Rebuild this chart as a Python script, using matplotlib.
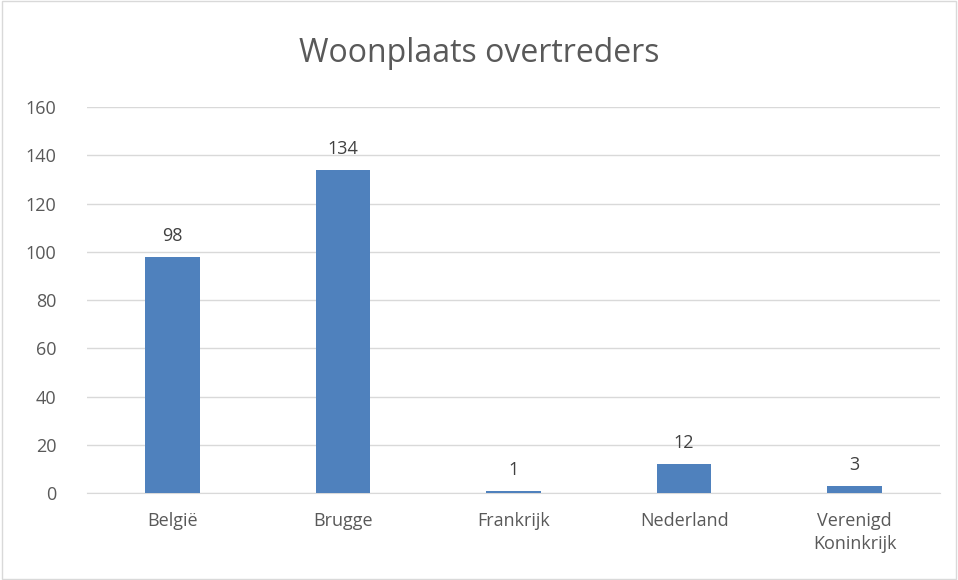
import matplotlib
matplotlib.use("Agg")
import matplotlib.pyplot as plt
import numpy as np

categories = ["België", "Brugge", "Frankrijk", "Nederland", "Verenigd\nKoninkrijk"]
values = [98, 134, 1, 12, 3]
yticks = [0, 20, 40, 60, 80, 100, 120, 140, 160]

BLUE = "#4F81BD"
TEXT = "#595959"
GRID = "#D9D9D9"

plt.rcParams["font.family"] = ["Open Sans", "DejaVu Sans"]

fig = plt.figure(figsize=(9.58, 5.8), dpi=100)
ax = fig.add_axes([0.0908, 0.15, 0.8904, 0.6655])

x = np.arange(len(categories))
ax.bar(x, values, width=0.32, color=BLUE, zorder=3)
for xi, v in zip(x, values):
    ax.text(xi, v + 5, str(v), ha="center", va="bottom", fontsize=13, color="#404040")

ax.set_xlim(-0.5, len(categories) - 0.5)
ax.set_ylim(0, 160)
ax.set_yticks(yticks)
ax.set_yticklabels([str(t) for t in yticks], fontsize=13, color=TEXT)
ax.set_xticks(x)
ax.set_xticklabels(categories, fontsize=13, color=TEXT, linespacing=1.3)
ax.tick_params(length=0, pad=14)
ax.tick_params(axis="y", pad=22)
ax.grid(True, axis="y", color=GRID, linewidth=1, zorder=0)
for s in ["top", "right", "left"]:
    ax.spines[s].set_visible(False)
ax.spines["bottom"].set_color(GRID)

fig.text(0.5, 0.908, "Woonplaats overtreders", ha="center", va="center",
         fontsize=23, color=TEXT)

# outer chart border
fig.patches.append(plt.Rectangle((0.002, 0.002), 0.996, 0.996, transform=fig.transFigure,
                                 fill=False, edgecolor="#D9D9D9", linewidth=1))

fig.savefig("out.png", dpi=100)
